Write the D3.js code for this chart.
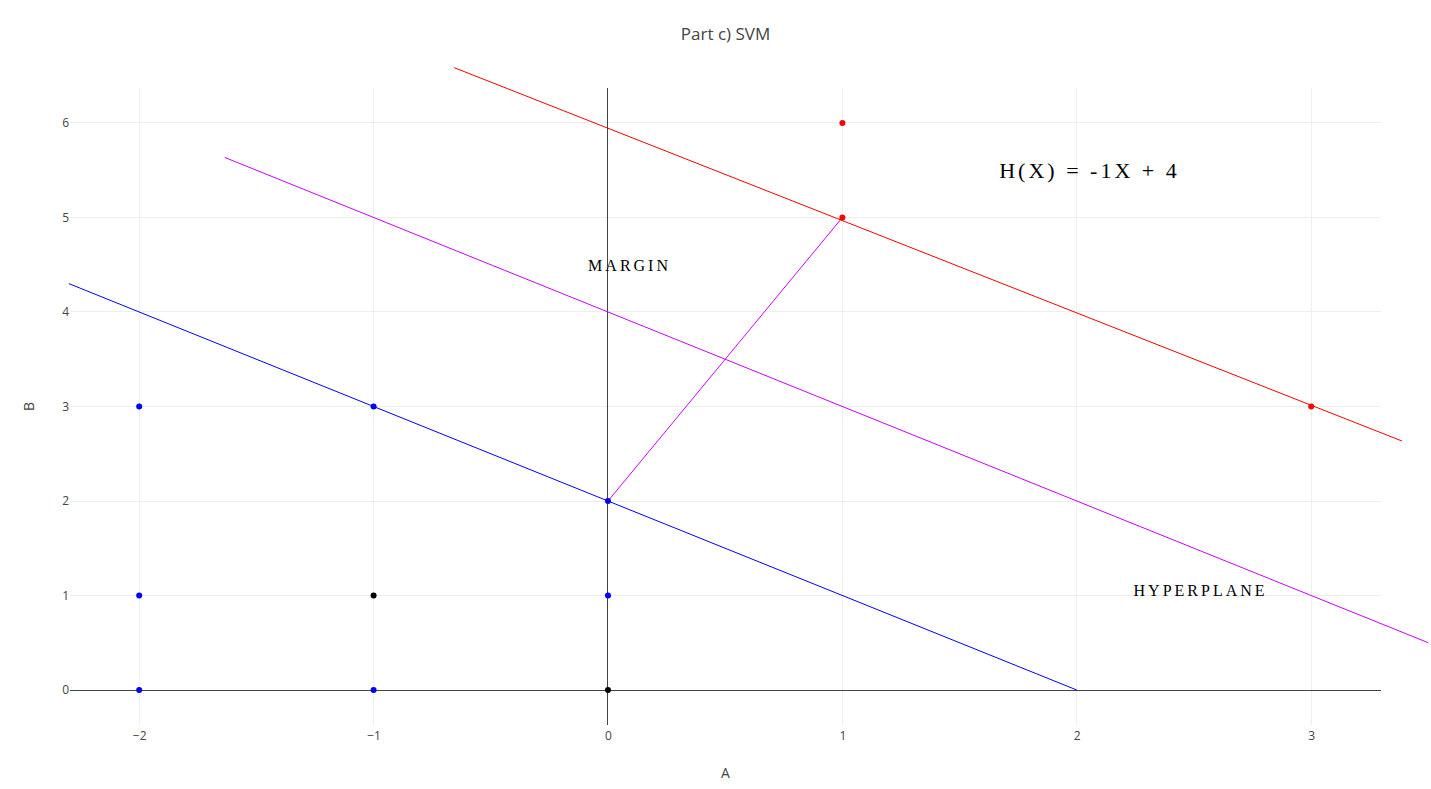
<!DOCTYPE html>
<html>
<head>
<meta charset="utf-8">
<script src="https://cdn.jsdelivr.net/npm/d3@7"></script>
<style>
  html, body { margin: 0; padding: 0; background: #fff; }
  svg { display: block; }
</style>
</head>
<body>
<script>
// ---- data ----
const xTicks = [-2, -1, 0, 1, 2, 3];
const yTicks = [0, 1, 2, 3, 4, 5, 6];

const bluePoints = [[-2, 3], [-1, 3], [0, 2], [-2, 1], [0, 1], [-2, 0], [-1, 0]];
const blackPoints = [[-1, 1], [0, 0]];
const redPoints = [[1, 6], [1, 5], [3, 3]];

const redLine = [[-0.656, 6.585], [3.387, 2.635]];
const hyperplaneLine = [[-1.635, 5.635], [3.5, 0.5]];
const blueLine = [[-2.3, 4.3], [2, 0]];
const marginLine = [[0, 2], [1, 5]];

const annotations = [
  { text: "H(X) = -1X + 4", x: 2.054, y: 5.5, size: 22, spacing: 3 },
  { text: "MARGIN", x: 0.092, y: 4.487, size: 16, spacing: 3 },
  { text: "HYPERPLANE", x: 2.528, y: 1.048, size: 16, spacing: 3 }
];

(function () {
// ---- layout ----
const W = 1431, H = 789;
const pLeft = 70, pRight = 1381, pTop = 88, pBottom = 725;

const x = d3.scaleLinear().domain([-2.2952, 3.2978]).range([pLeft, pRight]);
const y = d3.scaleLinear().domain([-0.37, 6.37]).range([pBottom, pTop]);

const svg = d3.select("body").append("svg").attr("width", W).attr("height", H);

// grid
svg.append("g").attr("shape-rendering", "crispEdges").selectAll("line").data(xTicks.filter(d => d !== 0)).join("line")
  .attr("x1", d => x(d)).attr("x2", d => x(d)).attr("y1", pTop).attr("y2", pBottom)
  .attr("stroke", "#eee").attr("stroke-width", 1);
svg.append("g").attr("shape-rendering", "crispEdges").selectAll("line").data(yTicks.filter(d => d !== 0)).join("line")
  .attr("y1", d => y(d)).attr("y2", d => y(d)).attr("x1", pLeft).attr("x2", pRight)
  .attr("stroke", "#eee").attr("stroke-width", 1);

// zero lines
svg.append("line").attr("shape-rendering", "crispEdges")
  .attr("x1", x(0)).attr("x2", x(0)).attr("y1", pTop).attr("y2", pBottom)
  .attr("stroke", "#444").attr("stroke-width", 1);
svg.append("line").attr("shape-rendering", "crispEdges")
  .attr("x1", pLeft).attr("x2", pRight).attr("y1", y(0)).attr("y2", y(0))
  .attr("stroke", "#444").attr("stroke-width", 1);

// axes (tick labels only)
const fmt = d3.format("d");
const xAxis = d3.axisBottom(x).tickValues(xTicks).tickSize(0).tickPadding(0).tickFormat(fmt);
const gx = svg.append("g").attr("transform", `translate(0,${pBottom + 6})`).call(xAxis);
gx.select(".domain").remove();
gx.selectAll("text").attr("font-family", "'Open Sans', sans-serif").attr("font-size", 12)
  .attr("fill", "#444").attr("dy", "0.71em");

const yAxis = d3.axisLeft(y).tickValues(yTicks).tickSize(0).tickPadding(0).tickFormat(fmt);
const gy = svg.append("g").attr("transform", `translate(${pLeft - 1},0)`).call(yAxis);
gy.select(".domain").remove();
gy.selectAll("text").attr("font-family", "'Open Sans', sans-serif").attr("font-size", 12)
  .attr("fill", "#444");

// lines
const lineGen = d3.line().x(d => x(d[0])).y(d => y(d[1]));
const lines = [
  { data: redLine, color: "#ff0000" },
  { data: hyperplaneLine, color: "#cc00ff" },
  { data: blueLine, color: "#0000ff" },
  { data: marginLine, color: "#cc00ff" }
];
svg.append("g").selectAll("path").data(lines).join("path")
  .attr("d", d => lineGen(d.data)).attr("fill", "none")
  .attr("stroke", d => d.color).attr("stroke-width", 1);

// points
function drawPoints(pts, color) {
  svg.append("g").selectAll("circle").data(pts).join("circle")
    .attr("cx", d => x(d[0])).attr("cy", d => y(d[1])).attr("r", 3)
    .attr("fill", color);
}
drawPoints(bluePoints, "#0000ff");
drawPoints(blackPoints, "#000000");
drawPoints(redPoints, "#ff0000");

// annotations
svg.append("g").selectAll("text").data(annotations).join("text")
  .attr("x", d => x(d.x)).attr("y", d => y(d.y))
  .attr("text-anchor", "middle").attr("dominant-baseline", "central")
  .attr("font-family", "'Liberation Serif', 'Times New Roman', serif")
  .attr("font-size", d => d.size).attr("letter-spacing", d => d.spacing + "px")
  .attr("fill", "#000").text(d => d.text);

// titles
svg.append("text").attr("x", (pLeft + pRight) / 2).attr("y", 33)
  .attr("text-anchor", "middle").attr("dominant-baseline", "central")
  .attr("font-family", "'Open Sans', sans-serif").attr("font-size", 17).attr("fill", "#444")
  .text("Part c) SVM");
svg.append("text").attr("x", (pLeft + pRight) / 2).attr("y", 772)
  .attr("text-anchor", "middle").attr("dominant-baseline", "central")
  .attr("font-family", "'Open Sans', sans-serif").attr("font-size", 14).attr("fill", "#444")
  .text("A");
svg.append("text").attr("transform", `translate(28,${(pTop + pBottom) / 2}) rotate(-90)`)
  .attr("text-anchor", "middle").attr("dominant-baseline", "central")
  .attr("font-family", "'Open Sans', sans-serif").attr("font-size", 14).attr("fill", "#444")
  .text("B");
})();
</script>
</body>
</html>
